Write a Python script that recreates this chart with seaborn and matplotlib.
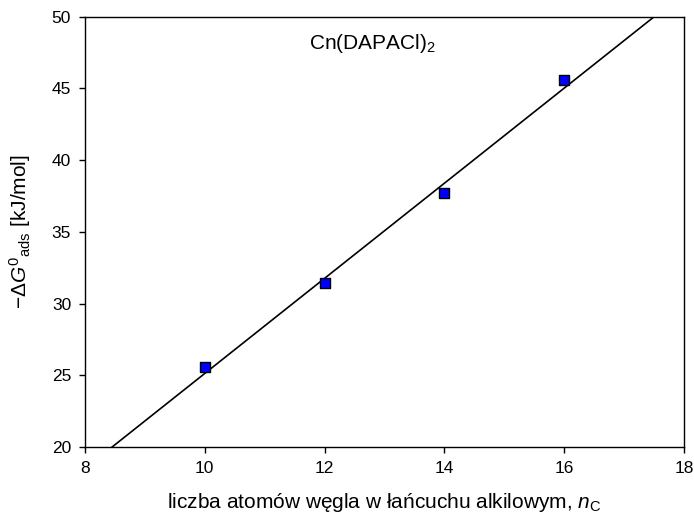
import numpy as np
import pandas as pd
import matplotlib
matplotlib.use("Agg")
import matplotlib.pyplot as plt
import seaborn as sns

# Number of carbon atoms in the alkyl chain and adsorption free energy
n_carbon = [10, 12, 14, 16]
neg_dG_ads = [25.6, 31.4, 37.7, 45.6]

x_ticks = [8, 10, 12, 14, 16, 18]
y_ticks = [20, 25, 30, 35, 40, 45, 50]

sns.set_style("ticks")
plt.rcParams["font.family"] = ["Liberation Sans", "DejaVu Sans"]
plt.rcParams["mathtext.fontset"] = "custom"
plt.rcParams["mathtext.rm"] = "Liberation Sans"
plt.rcParams["mathtext.it"] = "Liberation Sans:italic"
plt.rcParams["mathtext.bf"] = "Liberation Sans:bold"
plt.rcParams["text.color"] = "black"
plt.rcParams["axes.labelcolor"] = "black"

df = pd.DataFrame({"nC": n_carbon, "dG": neg_dG_ads})

fig = plt.figure(figsize=(6.94, 5.20), dpi=100)
fig.subplots_adjust(left=85 / 694, right=684 / 694, top=1 - 16.7 / 520, bottom=1 - 447 / 520)
ax = fig.add_subplot(111)

# Least-squares linear fit, drawn across the full x range
slope, intercept = np.polyfit(df["nC"], df["dG"], 1)
fit = pd.DataFrame({"nC": [x_ticks[0], x_ticks[-1]]})
fit["dG"] = slope * fit["nC"] + intercept
sns.lineplot(data=fit, x="nC", y="dG", ax=ax, color="black", linewidth=1.2, zorder=2)

sns.scatterplot(data=df, x="nC", y="dG", ax=ax, marker="s", s=55,
                color="#0000ff", edgecolor="black", linewidth=1.0, zorder=3)

ax.set_xlim(x_ticks[0], x_ticks[-1])
ax.set_ylim(y_ticks[0], y_ticks[-1])
ax.set_xticks(x_ticks)
ax.set_yticks(y_ticks)

for side in ["top", "right", "bottom", "left"]:
    ax.spines[side].set_visible(True)
    ax.spines[side].set_color("black")
    ax.spines[side].set_linewidth(1.0)

ax.tick_params(axis="both", direction="out", length=4.5, width=1.0,
               labelsize=12.5, colors="black", pad=5.5)

ax.set_xlabel(r"liczba atomów węgla w łańcuchu alkilowym, $n_{\mathrm{C}}$", fontsize=15)
ax.set_ylabel(r"$-\Delta G^{0}{}_{\mathrm{ads}}$ [kJ/mol]", fontsize=15)
ax.xaxis.set_label_coords(0.5, -0.103)
ax.yaxis.set_label_coords(-0.087, 0.5)

ax.text(12.79, 48.1, r"Cn(DAPACl)$_{2}$", fontsize=15, ha="center", va="center")

fig.savefig("out.png", dpi=100)
